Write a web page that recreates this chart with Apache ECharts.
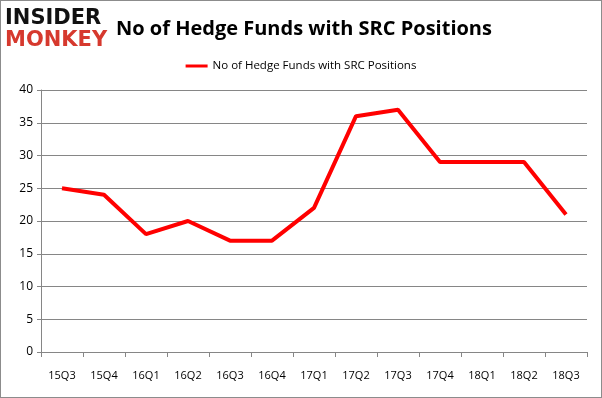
<!DOCTYPE html>
<html>
<head>
<meta charset="utf-8">
<script src="https://cdn.jsdelivr.net/npm/echarts@6/dist/echarts.min.js"></script>
<style>
  html, body { margin: 0; padding: 0; background: #fff; }
  #chart { width: 602px; height: 398px; box-sizing: border-box; border: 1px solid #8c8c8c; }
</style>
</head>
<body>
<div id="chart"></div>
<script>
const quarters = ['15Q3', '15Q4', '16Q1', '16Q2', '16Q3', '16Q4', '17Q1', '17Q2', '17Q3', '17Q4', '18Q1', '18Q2', '18Q3']
const fundCounts = [25, 24, 18, 20, 17, 17, 22, 36, 37, 29, 29, 29, 21]
const seriesName = 'No of Hedge Funds with SRC Positions'

const chart = echarts.init(document.getElementById('chart'))

const option = {
  animation: false,
  title: {
    text: 'No of Hedge Funds with SRC Positions',
    left: 110,
    top: 13,
    textStyle: {
      fontFamily: 'Open Sans',
      fontSize: 20,
      fontWeight: 'bold',
      color: '#000'
    }
  },
  legend: {
    top: 54,
    left: 'center',
    data: [seriesName],
    itemWidth: 22,
    itemHeight: 3,
    itemGap: 4,
    icon: 'rect',
    textStyle: {
      fontFamily: 'Open Sans',
      fontSize: 11.5,
      color: '#000'
    }
  },
  graphic: [
    {
      type: 'text',
      left: 4,
      top: 7,
      style: {
        text: 'INSIDER',
        font: '900 21px "DejaVu Sans"',
        fill: '#111'
      }
    },
    {
      type: 'text',
      left: 4,
      top: 29,
      style: {
        text: 'MONKEY',
        font: '900 21px "DejaVu Sans"',
        fill: '#d6392e'
      }
    }
  ],
  grid: {
    left: 40,
    right: 14,
    top: 89,
    bottom: 45
  },
  xAxis: {
    type: 'category',
    boundaryGap: true,
    data: quarters,
    axisLine: { lineStyle: { color: '#868686' } },
    axisTick: { show: true, alignWithLabel: false, length: 5, lineStyle: { color: '#868686' } },
    axisLabel: {
      color: '#000',
      fontFamily: 'Open Sans',
      fontSize: 11,
      margin: 18
    }
  },
  yAxis: {
    type: 'value',
    min: 0,
    max: 40,
    interval: 5,
    axisLine: { show: true, lineStyle: { color: '#868686' } },
    axisTick: { show: true, length: 4, lineStyle: { color: '#868686' } },
    axisLabel: {
      color: '#000',
      fontFamily: 'Open Sans',
      fontSize: 12,
      margin: 8
    },
    splitLine: { lineStyle: { color: '#868686' } }
  },
  series: [
    {
      name: seriesName,
      type: 'line',
      data: fundCounts,
      symbol: 'none',
      lineStyle: { color: '#ff0000', width: 4 },
      itemStyle: { color: '#ff0000' }
    }
  ]
}

chart.setOption(option)
</script>
</body>
</html>
